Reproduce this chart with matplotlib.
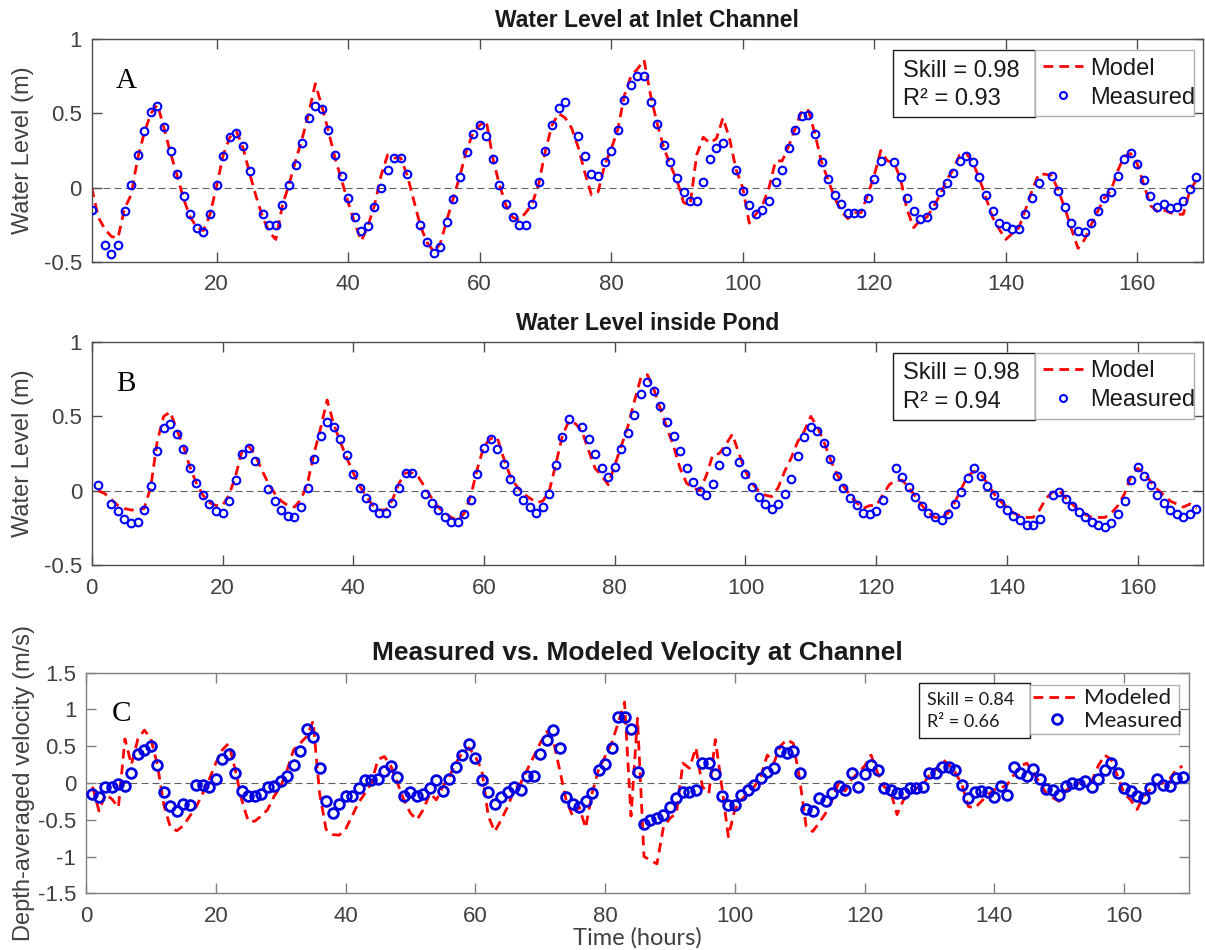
import numpy as np
import matplotlib
matplotlib.use("Agg")
import matplotlib.pyplot as plt
from matplotlib.lines import Line2D
from matplotlib.patches import Rectangle
from matplotlib.ticker import FuncFormatter

plt.rcParams['font.family'] = ['Liberation Sans', 'DejaVu Sans']
plt.rcParams['axes.unicode_minus'] = False

nan = np.nan
hours = np.arange(1, 170)

# Panel A - water level at inlet channel (m)
inlet_measured = [
    -0.15, nan, -0.39, -0.45, -0.39, -0.16, 0.02, 0.22, 0.38, 0.51,
    0.55, 0.41, 0.25, 0.09, -0.06, -0.18, -0.27, -0.30, -0.18, 0.02,
    0.21, 0.34, 0.37, 0.28, 0.11, nan, -0.18, -0.25, -0.25, -0.12,
    0.02, 0.15, 0.30, 0.47, 0.55, 0.53, 0.39, 0.22, 0.08, -0.07,
    -0.20, -0.29, -0.26, -0.13, 0.00, 0.12, 0.20, 0.20, 0.09, nan,
    -0.25, -0.37, -0.44, -0.40, -0.23, -0.08, 0.07, 0.24, 0.36, 0.42,
    0.35, 0.19, 0.02, -0.11, -0.20, -0.25, -0.25, -0.11, 0.04, 0.25,
    0.42, 0.54, 0.58, nan, 0.35, 0.21, 0.09, 0.08, 0.17, 0.25,
    0.39, 0.59, 0.69, 0.75, 0.75, 0.58, 0.43, 0.29, 0.17, 0.065,
    -0.03, -0.09, -0.09, 0.04, 0.19, 0.27, 0.30, nan, 0.12, -0.02,
    -0.12, -0.18, -0.15, -0.09, 0.04, 0.12, 0.27, 0.39, 0.48, 0.49,
    0.36, 0.17, 0.06, -0.05, -0.11, -0.17, -0.17, -0.17, -0.07, 0.06,
    0.18, nan, 0.17, 0.07, -0.07, -0.16, -0.21, -0.20, -0.12, -0.03,
    0.03, 0.10, 0.18, 0.21, 0.17, 0.07, -0.05, -0.16, -0.24, -0.26,
    -0.28, -0.28, -0.18, -0.07, 0.03, nan, 0.08, -0.02, -0.13, -0.24,
    -0.29, -0.30, -0.24, -0.16, -0.07, -0.03, 0.08, 0.19, 0.23, 0.16,
    0.05, -0.06, -0.13, -0.11, -0.14, -0.13, -0.09, -0.01, 0.07,
]
inlet_model = [
    0.00, -0.20, -0.28, -0.33, -0.34, -0.14, -0.05, 0.20, 0.37, 0.50,
    0.56, 0.40, 0.23, 0.08, -0.08, -0.20, -0.27, -0.29, -0.18, 0.01,
    0.22, 0.34, 0.38, 0.27, 0.10, -0.06, -0.20, -0.30, -0.35, -0.12,
    0.02, 0.18, 0.33, 0.50, 0.70, 0.55, 0.38, 0.20, 0.05, -0.10,
    -0.24, -0.36, -0.26, -0.12, 0.08, 0.22, 0.20, 0.20, 0.08, -0.09,
    -0.26, -0.37, -0.43, -0.38, -0.22, -0.07, 0.08, 0.25, 0.37, 0.42,
    0.45, 0.20, 0.02, -0.12, -0.20, -0.22, -0.17, -0.11, 0.03, 0.25,
    0.42, 0.50, 0.47, 0.40, 0.27, 0.10, -0.05, -0.03, 0.15, 0.26,
    0.39, 0.62, 0.75, 0.80, 0.86, 0.62, 0.43, 0.27, 0.15, 0.05,
    -0.10, -0.12, 0.22, 0.34, 0.30, 0.33, 0.47, 0.33, 0.12, 0.00,
    -0.24, -0.18, -0.12, 0.00, 0.18, 0.18, 0.28, 0.40, 0.52, 0.52,
    0.36, 0.17, 0.05, -0.07, -0.16, -0.21, -0.17, -0.17, -0.05, 0.08,
    0.25, 0.18, 0.17, 0.06, -0.15, -0.27, -0.22, -0.20, -0.13, -0.05,
    0.05, 0.12, 0.22, 0.23, 0.17, 0.06, -0.07, -0.20, -0.28, -0.35,
    -0.31, -0.27, -0.15, -0.02, 0.09, 0.09, 0.08, -0.02, -0.14, -0.28,
    -0.41, -0.35, -0.25, -0.16, -0.07, -0.02, 0.11, 0.21, 0.23, 0.16,
    0.02, -0.12, -0.16, -0.15, -0.17, -0.18, -0.18, -0.02, 0.05,
]

# Panel B - water level inside pond (m)
pond_measured = [
    0.04, nan, -0.09, -0.14, -0.19, -0.22, -0.21, -0.13, 0.03, 0.27,
    0.42, 0.45, 0.38, 0.28, 0.15, 0.05, -0.03, -0.09, -0.14, -0.15,
    -0.07, 0.07, 0.25, 0.29, 0.20, nan, 0.01, -0.07, -0.13, -0.17,
    -0.18, -0.11, 0.02, 0.21, 0.37, 0.46, 0.43, 0.35, 0.24, 0.11,
    0.02, -0.05, -0.11, -0.15, -0.15, -0.085, 0.02, 0.12, 0.12, nan,
    -0.02, -0.08, -0.13, -0.18, -0.21, -0.21, -0.16, -0.06, 0.11, 0.29,
    0.35, 0.28, 0.18, 0.08, 0.00, -0.06, -0.11, -0.15, -0.11, -0.02,
    0.17, 0.36, 0.48, nan, 0.43, 0.35, 0.25, 0.15, 0.09, 0.16,
    0.28, 0.39, 0.51, 0.65, 0.73, 0.67, 0.57, 0.46, 0.37, 0.27,
    0.15, 0.06, 0.00, -0.03, 0.045, 0.17, 0.27, nan, 0.19, 0.11,
    0.025, -0.04, -0.09, -0.12, -0.09, -0.02, 0.08, 0.23, 0.36, 0.43,
    0.40, 0.32, 0.21, 0.10, 0.02, -0.05, -0.095, -0.15, -0.16, -0.14,
    -0.06, nan, 0.15, 0.09, 0.025, -0.04, -0.10, -0.15, -0.18, -0.20,
    -0.16, -0.09, -0.01, 0.085, 0.15, 0.10, 0.03, -0.03, -0.085, -0.13,
    -0.17, -0.20, -0.23, -0.23, -0.19, nan, -0.03, -0.01, -0.055, -0.10,
    -0.145, -0.18, -0.21, -0.23, -0.245, -0.215, -0.16, -0.07, 0.07, 0.16,
    0.10, 0.035, -0.03, -0.085, -0.13, -0.155, -0.175, -0.16, -0.12,
]
pond_model = [
    0.00, -0.02, -0.06, -0.10, -0.12, -0.13, -0.13, -0.12, 0.02, 0.33,
    0.50, 0.53, 0.41, 0.30, 0.16, 0.05, -0.03, -0.08, -0.10, -0.10,
    -0.03, 0.10, 0.27, 0.30, 0.24, 0.14, 0.05, -0.02, -0.07, -0.10,
    -0.11, -0.06, 0.05, 0.25, 0.42, 0.61, 0.45, 0.33, 0.22, 0.12,
    0.03, -0.04, -0.10, -0.13, -0.13, -0.06, 0.05, 0.12, 0.12, 0.09,
    0.02, -0.05, -0.11, -0.15, -0.18, -0.20, -0.15, -0.03, 0.15, 0.30,
    0.35, 0.36, 0.22, 0.10, 0.03, -0.02, -0.05, -0.08, -0.07, 0.00,
    0.18, 0.37, 0.47, 0.45, 0.40, 0.27, 0.15, 0.10, 0.04, 0.17,
    0.30, 0.43, 0.60, 0.76, 0.78, 0.68, 0.55, 0.42, 0.30, 0.15,
    0.05, 0.02, 0.00, 0.10, 0.24, 0.25, 0.31, 0.38, 0.25, 0.13,
    0.05, 0.00, -0.03, -0.04, 0.02, 0.13, 0.22, 0.33, 0.40, 0.50,
    0.43, 0.33, 0.21, 0.11, 0.03, -0.03, -0.08, -0.12, -0.10, -0.10,
    -0.03, 0.04, 0.07, 0.07, 0.02, -0.04, -0.10, -0.15, -0.18, -0.18,
    -0.15, -0.08, 0.01, 0.10, 0.13, 0.11, 0.05, -0.02, -0.07, -0.11,
    -0.15, -0.17, -0.18, -0.18, -0.13, -0.05, -0.01, 0.00, -0.05, -0.09,
    -0.13, -0.16, -0.18, -0.18, -0.18, -0.15, -0.10, -0.02, 0.10, 0.15,
    0.12, 0.06, 0.01, -0.03, -0.07, -0.09, -0.11, -0.09, -0.12,
]

# Panel C - depth-averaged velocity at channel (m/s)
velocity_measured = [
    -0.155, -0.19, -0.05, -0.06, -0.02, -0.04, 0.14, 0.39, 0.45, 0.50,
    0.24, -0.12, -0.31, -0.38, -0.285, -0.30, -0.03, -0.03, -0.05, 0.06,
    0.33, 0.39, 0.14, -0.11, -0.17, -0.17, -0.155, -0.06, -0.045, 0.03,
    0.09, 0.25, 0.44, 0.73, 0.63, 0.20, -0.245, -0.41, -0.29, -0.17,
    -0.17, -0.07, 0.04, 0.04, 0.06, 0.16, 0.235, 0.08, -0.18, -0.12,
    -0.18, -0.155, -0.07, 0.04, -0.11, 0.06, 0.22, 0.38, 0.53, 0.34,
    0.045, -0.12, -0.29, -0.19, -0.12, -0.06, -0.10, 0.10, 0.095, 0.39,
    0.58, 0.715, 0.47, -0.195, -0.28, -0.325, -0.24, -0.135, 0.18, 0.26,
    0.48, 0.90, 0.90, 0.73, 0.145, -0.56, -0.50, -0.48, -0.44, -0.32,
    -0.21, -0.12, -0.12, -0.095, 0.27, 0.27, 0.12, -0.18, -0.30, -0.30,
    -0.165, -0.10, -0.03, 0.07, 0.145, 0.20, 0.44, 0.41, 0.44, 0.13,
    -0.35, -0.385, -0.20, -0.25, -0.13, -0.04, -0.10, 0.14, -0.06, 0.12,
    0.245, 0.18, -0.07, -0.10, -0.135, -0.14, -0.07, -0.07, -0.06, 0.13,
    0.135, 0.22, 0.22, 0.18, -0.03, -0.20, -0.12, -0.11, -0.12, -0.19,
    -0.045, -0.165, 0.22, 0.135, 0.10, 0.19, 0.06, -0.08, -0.10, -0.16,
    -0.035, 0.00, -0.02, 0.03, -0.055, 0.06, 0.17, 0.27, 0.13, -0.07,
    -0.11, -0.17, -0.20, -0.07, 0.05, -0.03, -0.04, 0.07, 0.08,
]
velocity_model = [
    -0.05, -0.38, -0.15, -0.22, -0.33, 0.60, 0.25, 0.60, 0.72, 0.60,
    0.25, -0.30, -0.60, -0.65, -0.58, -0.45, -0.32, -0.14, 0.05, 0.27,
    0.45, 0.54, 0.18, -0.23, -0.52, -0.52, -0.45, -0.36, -0.18, -0.05,
    0.18, 0.45, 0.54, 0.63, 0.84, -0.14, -0.63, -0.70, -0.71, -0.63,
    -0.45, -0.27, -0.14, 0.00, 0.32, 0.36, 0.23, 0.00, -0.23, -0.41,
    -0.50, -0.36, -0.14, -0.23, -0.05, 0.09, 0.27, 0.41, 0.48, 0.36,
    0.18, -0.45, -0.66, -0.50, -0.32, -0.09, 0.00, 0.18, 0.36, 0.54,
    0.70, 0.59, 0.18, -0.23, -0.45, -0.32, -0.61, -0.14, 0.18, 0.36,
    0.54, 0.81, 1.10, -0.45, 0.88, -1.00, -1.05, -1.10, -0.60, -0.48,
    -0.41, 0.27, 0.20, 0.48, -0.05, -0.14, 0.59, -0.05, -0.73, -0.36,
    -0.23, -0.14, -0.05, 0.09, 0.38, 0.27, 0.50, 0.59, 0.54, 0.05,
    -0.59, -0.66, -0.54, -0.41, -0.23, 0.00, -0.11, 0.05, 0.14, 0.23,
    0.38, 0.14, -0.05, -0.11, -0.43, -0.23, -0.14, -0.07, -0.02, 0.11,
    0.18, 0.32, 0.25, 0.14, -0.02, -0.32, -0.34, -0.25, -0.16, -0.09,
    -0.07, -0.02, 0.11, 0.23, 0.27, 0.14, 0.00, -0.14, -0.20, -0.25,
    -0.11, -0.02, 0.00, 0.00, 0.02, 0.23, 0.38, 0.32, 0.09, -0.14,
    -0.23, -0.36, -0.18, -0.09, -0.02, 0.00, 0.05, 0.18, 0.23,
]

W, H = 1205, 950


def px_axes(left, top, right, bottom):
    return [left / W, 1 - bottom / H, (right - left) / W, (bottom - top) / H]


def style_axes(ax, spine_color, label_color):
    for s in ax.spines.values():
        s.set_color(spine_color)
        s.set_linewidth(1.0)
    ax.tick_params(direction='in', top=True, right=True, length=7, width=1.0,
                   color=spine_color, labelcolor=label_color, labelsize=16)
    ax.tick_params(axis='x', pad=9)
    ax.tick_params(axis='y', pad=7)
    ax.yaxis.set_major_formatter(FuncFormatter(lambda v, p: '%g' % v))


fig = plt.figure(figsize=(W / 100, H / 100), dpi=100)

axA = fig.add_axes(px_axes(91.7, 39.3, 1203, 261.7))
axB = fig.add_axes(px_axes(91.8, 342, 1203, 565))
axC = fig.add_axes(px_axes(86, 672.7, 1189, 893.3))

red_dash = (0, (3.5, 2.2))
zero_dash = (0, (6.3, 3.6))

panels = [
    (axA, inlet_model, inlet_measured, 'Water Level at Inlet Channel', 'A', (1, 170),
     'Skill = 0.98', 'R\u00b2 = 0.93'),
    (axB, pond_model, pond_measured, 'Water Level inside Pond', 'B', (0, 170),
     'Skill = 0.98', 'R\u00b2 = 0.94'),
]

for ax, model, measured, title, letter, xlim, skill, r2 in panels:
    ax.axhline(0, color='#606060', lw=0.8, ls=zero_dash, zorder=1)
    ax.plot(hours, model, color='red', lw=2, ls=red_dash, zorder=2)
    ax.plot(hours, measured, ls='none', marker='o', ms=5.5, mfc='none',
            mec='#0000ff', mew=1.5, zorder=3)
    ax.set_xlim(*xlim)
    ax.set_ylim(-0.5, 1)
    ax.set_yticks([-0.5, 0, 0.5, 1])
    ax.set_xticks(np.arange(20 if xlim[0] > 0 else 0, 161, 20))
    style_axes(ax, '#4d4d4d', '#404040')
    ax.set_title(title, fontsize=16.5, fontweight='bold', pad=9, color='#1a1a1a')
    ax.text(0.022, 0.78, letter, transform=ax.transAxes, fontsize=21,
            family=['Liberation Serif'], va='baseline', ha='left')
    # statistics box next to the legend
    ax.add_patch(Rectangle((0.7211, 0.6506), 0.1277, 0.3013, transform=ax.transAxes,
                           facecolor='white', edgecolor='#1a1a1a', lw=1.0, zorder=5))
    ax.text(0.7298, 0.832, skill, transform=ax.transAxes, fontsize=17,
            va='baseline', ha='left', zorder=6, color='#1a1a1a')
    ax.text(0.7298, 0.7046, r2, transform=ax.transAxes, fontsize=17,
            va='baseline', ha='left', zorder=6, color='#1a1a1a')
    handles = [
        Line2D([], [], color='red', lw=2, ls=red_dash),
        Line2D([], [], ls='none', marker='o', ms=5, mfc='none', mec='#0000ff', mew=1.5),
    ]
    leg = ax.legend(handles, ['Model', 'Measured'], loc='upper left',
                    bbox_to_anchor=(0.8488, 0.655, 0.9919 - 0.8488, 0.9519 - 0.655),
                    mode='expand', borderaxespad=0, fontsize=17, fancybox=False,
                    edgecolor='#b0b0b0', framealpha=1, borderpad=0.32,
                    labelspacing=0.3, handlelength=1.7, handletextpad=0.3)
    leg.get_frame().set_linewidth(1.0)
    leg.set_zorder(6)
    for t in leg.get_texts():
        t.set_color('#1a1a1a')

fig.text(23 / W, 1 - 150.5 / H, 'Water Level (m)', rotation=90, ha='center', va='center',
         fontsize=17, color='#404040')
fig.text(23 / W, 1 - 453.5 / H, 'Water Level (m)', rotation=90, ha='center', va='center',
         fontsize=17, color='#404040')

# Panel C
axC.axhline(0, color='#606060', lw=0.8, ls=zero_dash, zorder=1)
axC.plot(hours, velocity_model, color='red', lw=2, ls=red_dash, zorder=2)
axC.plot(hours, velocity_measured, ls='none', marker='o', ms=7, mfc='none',
         mec='#0000e0', mew=2.0, zorder=3)
axC.set_xlim(0, 170)
axC.set_ylim(-1.5, 1.5)
axC.set_yticks(np.arange(-1.5, 1.51, 0.5))
axC.set_xticks(np.arange(0, 161, 20))
style_axes(axC, '#808080', '#404040')
axC.set_title('Measured vs. Modeled Velocity at Channel', fontsize=19, fontweight='bold',
              pad=9, color='#1a1a1a')
axC.text(0.0236, 0.781, 'C', transform=axC.transAxes, fontsize=21,
         family=['Liberation Serif'], va='baseline', ha='left')
axC.add_patch(Rectangle((0.755, 0.704), 0.1007, 0.249, transform=axC.transAxes,
                        facecolor='white', edgecolor='#1a1a1a', lw=1.0, zorder=5))
axC.text(0.7625, 0.852, 'Skill = 0.84', transform=axC.transAxes, fontsize=13,
         family=['Lato', 'DejaVu Sans'], va='baseline', ha='left', zorder=6, color='#1a1a1a')
axC.text(0.7625, 0.754, 'R\u00b2 = 0.66', transform=axC.transAxes, fontsize=13,
         family=['Lato', 'DejaVu Sans'], va='baseline', ha='left', zorder=6, color='#1a1a1a')
handles_c = [
    Line2D([], [], color='red', lw=2, ls=red_dash),
    Line2D([], [], ls='none', marker='o', ms=7, mfc='none', mec='#0000e0', mew=2.0),
]
legC = axC.legend(handles_c, ['Modeled', 'Measured'], loc='upper left',
                  bbox_to_anchor=(0.8557, 0.70, 0.991 - 0.8557, 0.944 - 0.70),
                  mode='expand', borderaxespad=0,
                  prop={'family': ['Lato', 'DejaVu Sans'], 'size': 16},
                  fancybox=False, edgecolor='#b0b0b0', framealpha=1, borderpad=0.15,
                  labelspacing=0.1, handlelength=2.1, handletextpad=0.2)
legC.get_frame().set_linewidth(1.0)
legC.set_zorder(6)
for t in legC.get_texts():
    t.set_color('#1a1a1a')

fig.text(24 / W, 1 - 783 / H, 'Depth-averaged velocity (m/s)', rotation=90, ha='center',
         va='center', fontsize=17, color='#404040')
fig.text(637 / W, 1 - 938 / H, 'Time (hours)', ha='center', va='center', fontsize=17,
         family=['Lato', 'DejaVu Sans'], color='#404040')

fig.savefig('out.png', dpi=100)
